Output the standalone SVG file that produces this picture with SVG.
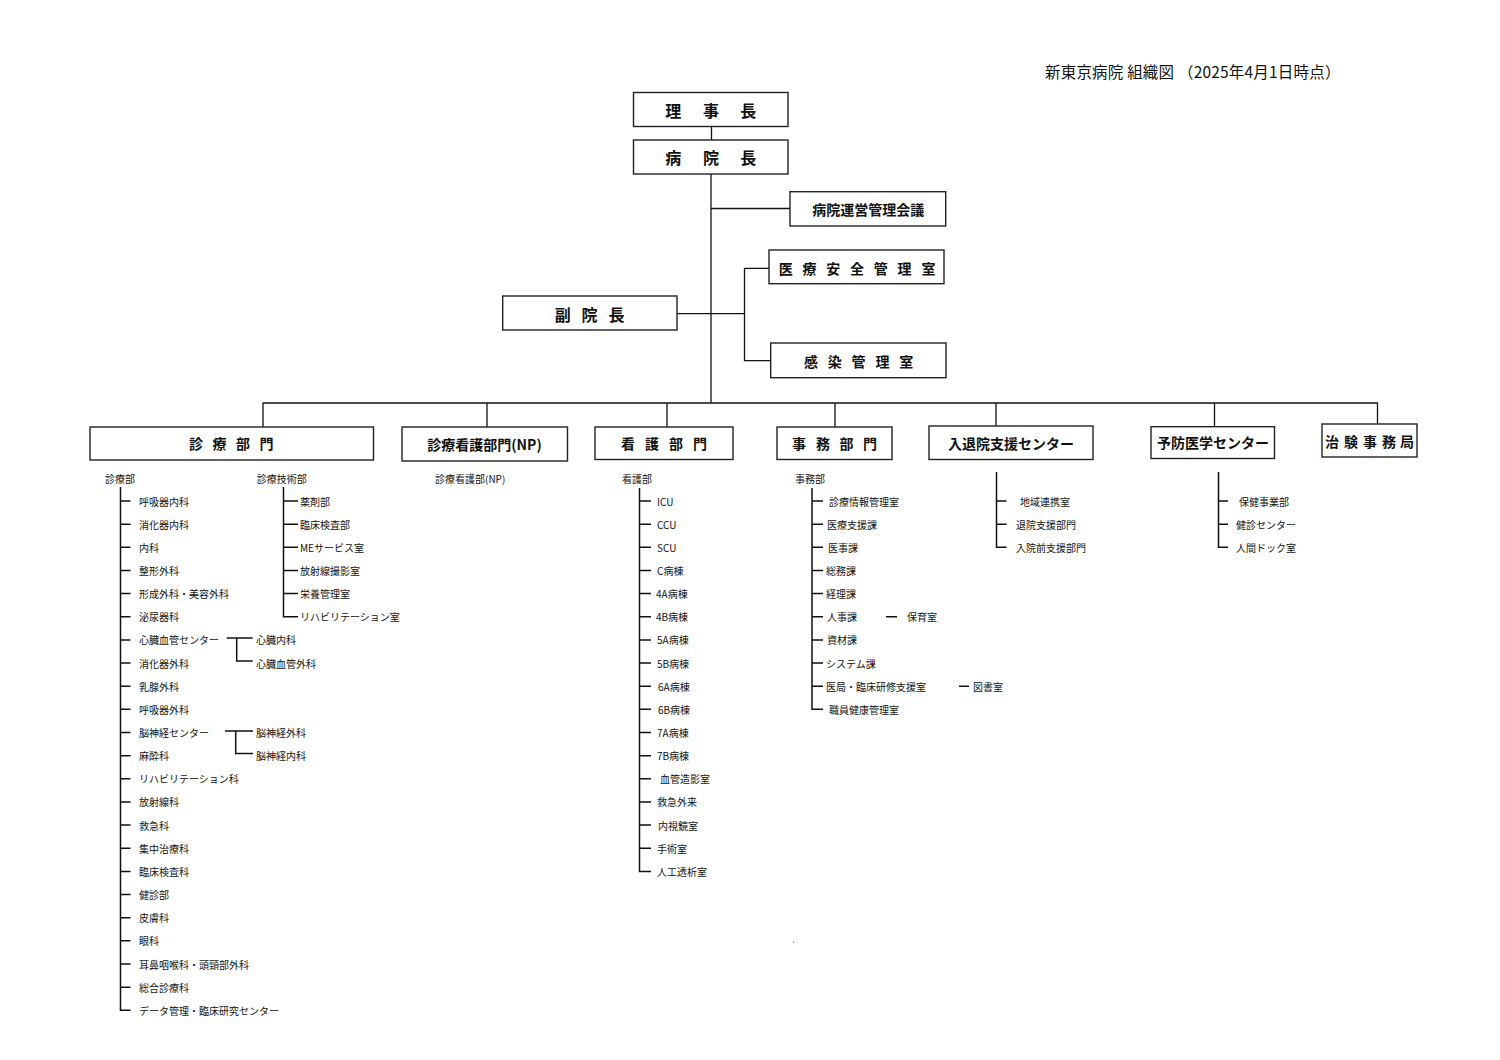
<svg xmlns="http://www.w3.org/2000/svg" width="1500" height="1060" viewBox="0 0 1500 1060">
<style>
.bg{fill:#fff}
.box{fill:#fff;stroke:#222;stroke-width:1.4}
.ln{stroke:#111;stroke-width:1.3;fill:none}
.tr{stroke:#111;stroke-width:1.5;fill:none}
text{font-family:"Noto Sans CJK JP","Noto Sans",sans-serif;fill:#111}
.h{font-size:14px;font-weight:bold;text-anchor:middle;dominant-baseline:central}
.h16{font-size:16px;font-weight:bold;text-anchor:middle;dominant-baseline:central}
.s{font-size:10px;dominant-baseline:central}
.title{font-size:15.5px;letter-spacing:0.2px;dominant-baseline:central}
</style>
<rect class="bg" x="0" y="0" width="1500" height="1060"/>
<text class="title" x="1045" y="71">新東京病院 組織図 （2025年4月1日時点）</text>

<g id="connectors">
<path class="ln" d="M711.5 127 V140"/>
<path class="ln" d="M711 174 V403"/>
<path class="ln" d="M711 208.5 H790"/>
<path class="ln" d="M677 313.7 H744.5"/>
<path class="ln" d="M744.5 268.3 H769 M744.5 268.3 V360.7 H770.7"/>
<path class="ln" d="M263 427 V403 H1377.5 V424"/>
<path class="ln" d="M487 403 V427 M667 403 V427 M835 403 V427 M996 403 V426 M1214.5 403 V427"/>
</g>

<g id="n-rijicho"><rect class="box" x="633.5" y="92.5" width="154.5" height="34"/><text class="h16" x="673.3 711 748.3" y="110">理事長</text></g>
<g id="n-byoincho"><rect class="box" x="633.5" y="140" width="154.5" height="34"/><text class="h16" x="673.3 711 748.3" y="157.3">病院長</text></g>
<g id="n-unei"><rect class="box" x="790" y="191.7" width="155.7" height="34.3"/><text class="h" x="868.3" y="209.3">病院運営管理会議</text></g>
<g id="n-iryoanzen"><rect class="box" x="769" y="250" width="175" height="33.7"/><text class="h" x="785.7 809.5 833.3 857 880.8 904.6 928.4" y="267.7">医療安全管理室</text></g>
<g id="n-kansen"><rect class="box" x="770.7" y="343" width="175.3" height="34.7"/><text class="h" x="811 834.8 858.6 882.4 906.2" y="361">感染管理室</text></g>
<g id="n-fukuincho"><rect class="box" x="502.7" y="296" width="174.3" height="34"/><text class="h16" x="562.7 589.6 616.5" y="313.7">副院長</text></g>

<g id="n-shinryo"><rect class="box" x="90" y="427" width="283.5" height="33"/><text class="h" x="196 219.5 243 266.5" y="443">診療部門</text></g>
<g id="n-np"><rect class="box" x="402" y="427" width="165.5" height="34"/><text class="h" x="484.5" y="443.5">診療看護部門(NP)</text></g>
<g id="n-kango"><rect class="box" x="595" y="427" width="138" height="32.5"/><text class="h" x="628 652 676 700" y="443">看護部門</text></g>
<g id="n-jimu"><rect class="box" x="777" y="427" width="115" height="32.5"/><text class="h" x="799 823 846.5 870" y="443">事務部門</text></g>
<g id="n-nyutai"><rect class="box" x="929" y="426" width="164" height="33.5"/><text class="h" x="1011" y="442.5">入退院支援センター</text></g>
<g id="n-yobo"><rect class="box" x="1151" y="426.7" width="123.5" height="31.8"/><text class="h" x="1213" y="442.4">予防医学センター</text></g>
<g id="n-chiken"><rect class="box" x="1322" y="424" width="95" height="33"/><text class="h" x="1332 1351 1370 1389 1407" y="440.5">治験事務局</text></g>

<g id="list-shinryobu">
<text class="s" x="105" y="478.3">診療部</text>
<path class="tr" d="M120.5 487 V1010.3 H130.5 M120.5 501 H130.5 M120.5 524.15 H130.5 M120.5 547.3 H130.5 M120.5 570.45 H130.5 M120.5 593.6 H130.5 M120.5 616.75 H130.5 M120.5 639.9 H130.5 M120.5 663.05 H130.5 M120.5 686.2 H130.5 M120.5 709.35 H130.5 M120.5 732.5 H130.5 M120.5 755.65 H130.5 M120.5 778.8 H130.5 M120.5 801.95 H130.5 M120.5 825.1 H130.5 M120.5 848.25 H130.5 M120.5 871.4 H130.5 M120.5 894.55 H130.5 M120.5 917.7 H130.5 M120.5 940.85 H130.5 M120.5 964 H130.5 M120.5 987.15 H130.5"/>
<text class="s" x="139" y="501">呼吸器内科</text>
<text class="s" x="139" y="524.15">消化器内科</text>
<text class="s" x="139" y="547.3">内科</text>
<text class="s" x="139" y="570.45">整形外科</text>
<text class="s" x="139" y="593.6">形成外科・美容外科</text>
<text class="s" x="139" y="616.75">泌尿器科</text>
<text class="s" x="139" y="639.9">心臓血管センター</text>
<text class="s" x="139" y="663.05">消化器外科</text>
<text class="s" x="139" y="686.2">乳腺外科</text>
<text class="s" x="139" y="709.35">呼吸器外科</text>
<text class="s" x="139" y="732.5">脳神経センター</text>
<text class="s" x="139" y="755.65">麻酔科</text>
<text class="s" x="139" y="778.8">リハビリテーション科</text>
<text class="s" x="139" y="801.95">放射線科</text>
<text class="s" x="139" y="825.1">救急科</text>
<text class="s" x="139" y="848.25">集中治療科</text>
<text class="s" x="139" y="871.4">臨床検査科</text>
<text class="s" x="139" y="894.55">健診部</text>
<text class="s" x="139" y="917.7">皮膚科</text>
<text class="s" x="139" y="940.85">眼科</text>
<text class="s" x="139" y="964">耳鼻咽喉科・頭頸部外科</text>
<text class="s" x="139" y="987.15">総合診療科</text>
<text class="s" x="139" y="1010.3">データ管理・臨床研究センター</text>
<path class="tr" d="M226.7 638 H252.7 M236.7 638 V661 H252.7"/>
<text class="s" x="256" y="639.9">心臓内科</text>
<text class="s" x="256" y="663.05">心臓血管外科</text>
<path class="tr" d="M225 731 H253 M235.7 731 V753.5 H253"/>
<text class="s" x="256" y="732.5">脳神経外科</text>
<text class="s" x="256" y="755.65">脳神経内科</text>
</g>

<g id="list-gijutsu">
<text class="s" x="256.7" y="478.3">診療技術部</text>
<path class="tr" d="M283.5 487 V616.75 H298 M283.5 501 H298 M283.5 524.15 H298 M283.5 547.3 H298 M283.5 570.45 H298 M283.5 593.6 H298"/>
<text class="s" x="300" y="501">薬剤部</text>
<text class="s" x="300" y="524.15">臨床検査部</text>
<text class="s" x="300" y="547.3">MEサービス室</text>
<text class="s" x="300" y="570.45">放射線撮影室</text>
<text class="s" x="300" y="593.6">栄養管理室</text>
<text class="s" x="300" y="616.75">リハビリテーション室</text>
</g>

<g id="list-np">
<text class="s" x="435" y="478.3">診療看護部(NP)</text>
</g>

<g id="list-kangobu">
<text class="s" x="622" y="478.3">看護部</text>
<path class="tr" d="M639.5 488 V871.4 H651 M639.5 501 H651 M639.5 524.15 H651 M639.5 547.3 H651 M639.5 570.45 H651 M639.5 593.6 H651 M639.5 616.75 H651 M639.5 639.9 H651 M639.5 663.05 H651 M639.5 686.2 H651 M639.5 709.35 H651 M639.5 732.5 H651 M639.5 755.65 H651 M639.5 778.8 H651 M639.5 801.95 H651 M639.5 825.1 H651 M639.5 848.25 H651"/>
<text class="s" x="657" y="501">ICU</text>
<text class="s" x="657" y="524.15">CCU</text>
<text class="s" x="657" y="547.3">SCU</text>
<text class="s" x="657" y="570.45">C病棟</text>
<text class="s" x="656" y="593.6">4A病棟</text>
<text class="s" x="656" y="616.75">4B病棟</text>
<text class="s" x="657" y="639.9">5A病棟</text>
<text class="s" x="657" y="663.05">5B病棟</text>
<text class="s" x="658" y="686.2">6A病棟</text>
<text class="s" x="658" y="709.35">6B病棟</text>
<text class="s" x="657" y="732.5">7A病棟</text>
<text class="s" x="657" y="755.65">7B病棟</text>
<text class="s" x="660" y="778.8">血管造影室</text>
<text class="s" x="657" y="801.95">救急外来</text>
<text class="s" x="658" y="825.1">内視鏡室</text>
<text class="s" x="657" y="848.25">手術室</text>
<text class="s" x="657" y="871.4">人工透析室</text>
</g>

<g id="list-jimubu">
<text class="s" x="795" y="478.8">事務部</text>
<path class="tr" d="M812 488 V709.35 H823 M812 501 H823 M812 524.15 H823 M812 547.3 H823 M812 570.45 H823 M812 593.6 H823 M812 616.75 H823 M812 639.9 H823 M812 663.05 H823 M812 686.2 H823"/>
<text class="s" x="829" y="501">診療情報管理室</text>
<text class="s" x="827" y="524.15">医療支援課</text>
<text class="s" x="828" y="547.3">医事課</text>
<text class="s" x="826" y="570.45">総務課</text>
<text class="s" x="826" y="593.6">経理課</text>
<text class="s" x="827" y="616.75">人事課</text>
<text class="s" x="827" y="639.9">資材課</text>
<text class="s" x="826" y="663.05">システム課</text>
<text class="s" x="826" y="686.2">医局・臨床研修支援室</text>
<text class="s" x="829" y="709.35">職員健康管理室</text>
<path class="tr" d="M886 616.75 H897 M959 686.2 H969"/>
<text class="s" x="907" y="616.75">保育室</text>
<text class="s" x="973" y="686.2">図書室</text>
</g>

<g id="list-nyutai">
<path class="tr" d="M996.5 472 V547.3 H1006.5 M996.5 501 H1006.5 M996.5 524.15 H1006.5"/>
<text class="s" x="1020" y="501">地域連携室</text>
<text class="s" x="1016" y="524.15">退院支援部門</text>
<text class="s" x="1016" y="547.3">入院前支援部門</text>
</g>

<g id="list-yobo">
<path class="tr" d="M1218.5 472 V547.3 H1228 M1218.5 501 H1228 M1218.5 524.15 H1228"/>
<text class="s" x="1239" y="501">保健事業部</text>
<text class="s" x="1236" y="524.15">健診センター</text>
<text class="s" x="1236" y="547.3">人間ドック室</text>
</g>

<rect x="793" y="941.5" width="1.2" height="1.2" fill="#666"/>
</svg>
